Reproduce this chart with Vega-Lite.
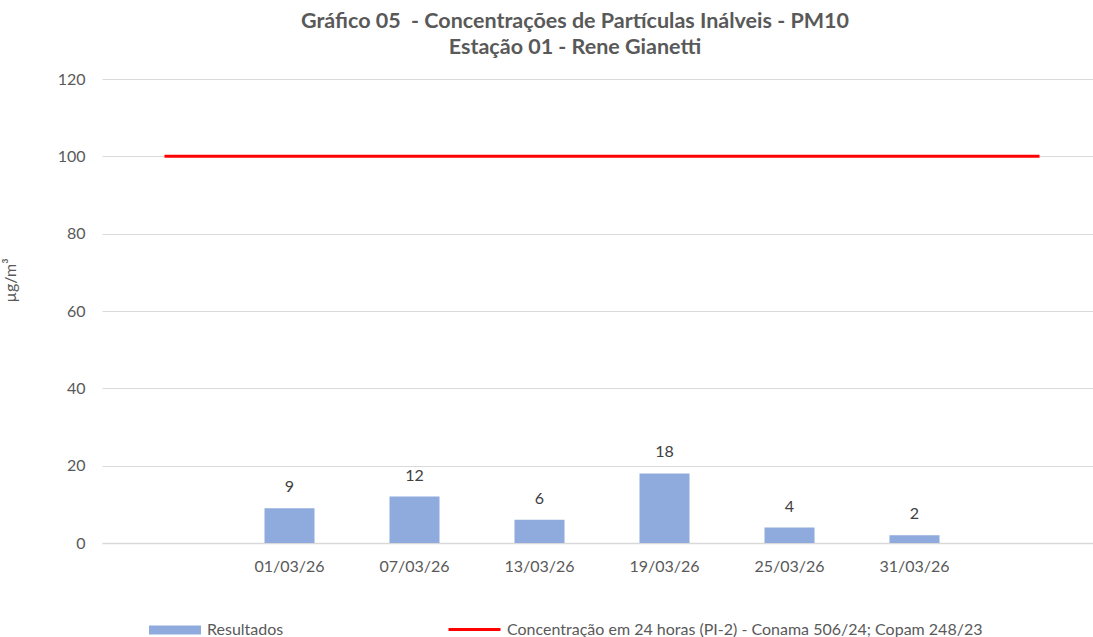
{
  "$schema": "https://vega.github.io/schema/vega-lite/v6.json",
  "width": 1000,
  "height": 464,
  "autosize": "none",
  "padding": {"left": 102, "top": 79, "right": 0, "bottom": 94},
  "background": "white",
  "config": {
    "view": {"stroke": null},
    "font": "Lato",
    "text": {"font": "Lato"}
  },
  "title": {
    "text": ["Gráfico 05\u00a0 - Concentrações de Partículas Inálveis - PM10", "Estação 01 - Rene Gianetti"],
    "font": "Lato",
    "fontSize": 21.5,
    "fontWeight": "bold",
    "color": "#595959",
    "anchor": "middle",
    "dx": -27,
    "offset": 13,
    "lineHeight": 26
  },
  "data": {
    "values": [
      {"data": "", "resultado": null, "limite": 100},
      {"data": "01/03/26", "resultado": 9, "limite": 100},
      {"data": "07/03/26", "resultado": 12, "limite": 100},
      {"data": "13/03/26", "resultado": 6, "limite": 100},
      {"data": "19/03/26", "resultado": 18, "limite": 100},
      {"data": "25/03/26", "resultado": 4, "limite": 100},
      {"data": "31/03/26", "resultado": 2, "limite": 100},
      {"data": " ", "resultado": null, "limite": 100}
    ]
  },
  "encoding": {
    "x": {
      "field": "data",
      "type": "nominal",
      "scale": {"domain": ["", "01/03/26", "07/03/26", "13/03/26", "19/03/26", "25/03/26", "31/03/26", " "], "paddingInner": 0.6, "paddingOuter": 0.3},
      "axis": {
        "title": null,
        "labelAngle": 0,
        "labelFont": "Lato",
        "labelFontSize": 16,
        "labelColor": "#595959",
        "labelPadding": 15,
        "ticks": false,
        "domainColor": "#d9d9d9",
        "domainWidth": 1.5,
        "grid": false
      }
    }
  },
  "layer": [
    {
      "transform": [{"filter": "datum.resultado != null"}],
      "mark": {"type": "bar", "color": "#8faadc"},
      "encoding": {
        "y": {
          "field": "resultado",
          "type": "quantitative",
          "scale": {"domain": [0, 120]},
          "axis": {
            "values": [0, 20, 40, 60, 80, 100, 120],
            "title": "µg/m³",
            "titleFont": "Lato",
            "titleFontWeight": "normal",
            "titleFontSize": 16,
            "titleColor": "#595959",
            "titleX": -84,
            "titleY": 201,
            "titleAngle": -90,
            "labelFont": "Lato",
            "labelFontSize": 16,
            "labelColor": "#595959",
            "labelPadding": 17,
            "ticks": false,
            "domain": false,
            "gridColor": "#d9d9d9",
            "gridWidth": 1
          }
        },
        "fill": {
          "datum": "Resultados",
          "scale": {"range": ["#8faadc"]},
          "legend": {
            "title": null,
            "orient": "none",
            "legendX": 47,
            "legendY": 525,
            "symbolType": "M-1,-0.17H1V0.17H-1Z",
            "symbolSize": 2704,
            "symbolStrokeWidth": 0,
            "labelOffset": 6,
            "labelLimit": 0,
            "labelFont": "Lato",
            "labelFontSize": 16,
            "labelColor": "#595959"
          }
        }
      }
    },
    {
      "transform": [{"filter": "datum.resultado != null"}],
      "mark": {"type": "text", "baseline": "bottom", "dy": -13, "fontSize": 16, "color": "#404040", "font": "Lato"},
      "encoding": {
        "y": {"field": "resultado", "type": "quantitative"},
        "text": {"field": "resultado", "type": "quantitative"}
      }
    },
    {
      "mark": {"type": "line", "color": "#ff0000", "strokeWidth": 3},
      "encoding": {
        "y": {"field": "limite", "type": "quantitative"},
        "stroke": {
          "datum": "Concentração em 24 horas (PI-2) - Conama 506/24; Copam 248/23",
          "scale": {"range": ["#ff0000"]},
          "legend": {
            "title": null,
            "orient": "none",
            "legendX": 345,
            "legendY": 523,
            "symbolType": "stroke",
            "symbolSize": 2704,
            "symbolStrokeWidth": 3,
            "labelOffset": 5,
            "labelLimit": 0,
            "labelFont": "Lato",
            "labelFontSize": 16,
            "labelColor": "#595959"
          }
        }
      }
    }
  ]
}
